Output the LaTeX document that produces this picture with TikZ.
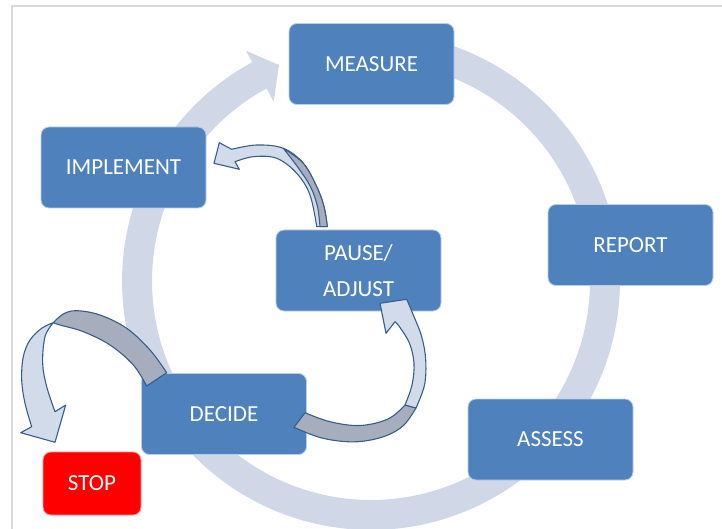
\documentclass[tikz,border=0pt]{standalone}
\usepackage{fontspec}
\setmainfont{Carlito}
\definecolor{boxblue}{RGB}{79,129,189}
\definecolor{boxedge}{RGB}{185,205,229}
\definecolor{ringc}{RGB}{208,216,232}
\definecolor{arrlight}{RGB}{210,219,234}
\definecolor{arrgray}{RGB}{166,174,189}
\definecolor{arredge}{RGB}{56,93,138}
\definecolor{framec}{RGB}{217,217,217}
\definecolor{stopred}{RGB}{255,0,0}
\definecolor{stopedge}{RGB}{255,150,150}
\begin{document}
\begin{tikzpicture}[x=1pt,y=-1pt,
  box/.style={rounded corners=8pt, fill=boxblue, draw=boxedge, line width=0.8pt,
    text=white, minimum width=165pt, minimum height=81pt, inner sep=0pt,
    font=\fontsize{23}{36}\selectfont, align=center},
  stopbox/.style={box, fill=stopred, draw=stopedge, minimum width=98pt, minimum height=63pt},
  lightpart/.style={fill=arrlight, draw=arredge, line width=1.1pt, line join=round},
  graypart/.style={fill=arrgray, draw=arredge, line width=1.1pt, line join=round}]
\useasboundingbox (0,0) rectangle (722,529);
% page frame
\draw[framec, line width=2pt] (12,529) -- (12,6) -- (722,6);
% big cycle ring with arrow head
\fill[ringc] plot[domain=-90:241.5, samples=150] ({371+249*cos(\x)},{281+249*sin(\x)})
  -- ({371+262*cos(241.5)},{281+262*sin(241.5)}) -- (279,65)
  -- ({371+204*cos(241.5)},{281+204*sin(241.5)})
  -- plot[domain=241.5:-90, samples=150] ({371+219*cos(\x)},{281+219*sin(\x)}) -- cycle;
% boxes
\node[box] (measure) at (371.5,64) {MEASURE};
\node[box] (implement) at (123.5,167.5) {IMPLEMENT};
\node[box] (report) at (630.5,245) {REPORT};
\node[box] (pause) at (358.5,270.5) {PAUSE/\\ADJUST};
\node[box] (decide) at (224,414) {DECIDE};
\node[box] (assess) at (550.5,439.5) {ASSESS};
\node[stopbox] (stop) at (92,483.5) {STOP};
% arrow PAUSE -> IMPLEMENT
\path[lightpart] (214,163.3) -- (219.3,142.7) -- (231.7,149.3)
  -- plot[smooth, tension=0.6] coordinates {(231.7,149.3) (256.7,145) (283.3,148.3) (303.3,163.3) (316.7,186.7) (324,206.7) (327.3,226.7)}
  -- (316.7,226.7)
  -- plot[smooth, tension=0.6] coordinates {(316.7,226.7) (310,195) (296.7,173.3) (276.7,158.3) (253.3,156.7) (235,161.7)}
  -- (239.3,169.3) -- cycle;
\path[graypart] plot[smooth, tension=0.6] coordinates {(283.3,148.3) (303.3,163.3) (316.7,186.7) (324,206.7) (327.3,226.7)}
  -- (320,226.7)
  -- plot[smooth, tension=0.6] coordinates {(320,226.7) (317.5,206.7) (310.5,186.7) (298,167.5) (283.3,148.3)} -- cycle;
% arrow DECIDE -> PAUSE
\path[graypart] (294,427.3) -- (305,412.7)
  -- plot[smooth, tension=0.6] coordinates {(305,412.7) (330,421.7) (360,425.5) (388,419) (405,405)}
  -- (416,408)
  -- plot[smooth, tension=0.6] coordinates {(416,408) (404,425) (388,435) (368,440.5) (346.7,441.7) (320,437.5) (294,427.3)} -- cycle;
\path[lightpart] (380,303.3)
  -- plot[smooth, tension=0.6] coordinates {(406.7,299.3) (413.3,315) (421.7,336.7) (425.7,360) (424.5,385) (416,408)}
  -- (405,405)
  -- plot[smooth, tension=0.6] coordinates {(405,405) (412,385) (414,363.3) (409.5,343.3) (400,327.5) (395,321.7)}
  -- (386,333.3) -- cycle;
% arrow DECIDE -> STOP
\path[graypart] plot[smooth, tension=0.6] coordinates {(166.7,372.7) (150,350) (126.7,328.3) (100,315) (76.7,310.7) (63.3,314) (53.3,322.7)}
  -- plot[smooth, tension=0.6] coordinates {(53.3,322.7) (60,325) (83.3,331.7) (110,345) (133.3,365) (146.7,386)} -- cycle;
\path[lightpart] plot[smooth, tension=0.6] coordinates {(53.3,322.7) (41.7,328.3) (30,340) (23.3,356.7) (21.7,380) (25,403.3) (31.7,426.7)}
  -- (20.7,432.7) -- (55,442.3) -- (65.7,405)
  -- plot[smooth, tension=0.6] coordinates {(55,411.7) (46.7,386.7) (42.7,363.3) (45,336.7) (53.3,322.7)} -- cycle;
\end{tikzpicture}
\end{document}
